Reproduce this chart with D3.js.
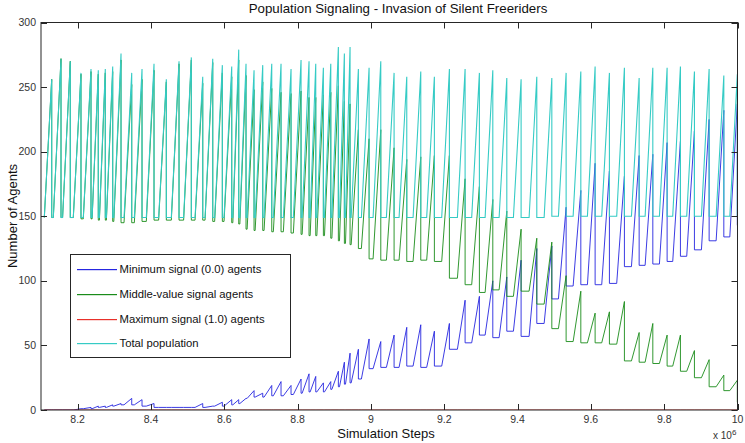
<!DOCTYPE html>
<html><head><meta charset="utf-8">
<script src="https://cdn.jsdelivr.net/npm/d3@7"></script>
<style>
html,body{margin:0;padding:0;background:#fff;}
svg{display:block;font-family:"Liberation Sans",Arial,Helvetica,sans-serif;}
</style></head>
<body><svg id="c" width="745" height="443"></svg>
<script>
// ---- data (x in units of 10^6 simulation steps) ----
const peakStep = [8.1292,8.1546,8.1799,8.2091,8.2364,8.2563,8.2754,8.2956,8.3183,8.3475,8.3756,8.4083,8.4419,8.4765,8.5101,8.5412,8.5685,8.5947,8.6203,8.6394,8.6593,
 8.6812,8.7049,8.7295,8.7548,8.7821,8.8094,8.8312,8.8495,8.8703,8.8905,8.9112,8.9276,8.9431,8.9658,8.9950,9.0269,9.0632,9.0978,9.1360,9.1731,9.2141,9.2569,9.2959,9.3325,
 9.3707,9.4097,9.4525,9.4935,9.5325,9.5726,9.6116,9.6506,9.6915,9.7317,9.7690,9.8080,9.8443,9.8825,9.9226,9.9627,9.9995];
const riseStep = [8.1090,8.1336,8.1589,8.1881,8.2154,8.2394,8.2593,8.2784,8.2986,8.3265,8.3546,8.3873,8.4209,8.4555,8.4891,8.5202,8.5475,8.5737,8.5993,8.6233,8.6424,
 8.6623,8.6842,8.7085,8.7338,8.7611,8.7884,8.8124,8.8342,8.8525,8.8733,8.8935,8.9142,8.9306,8.9461,8.9740,9.0059,9.0422,9.0768,9.1150,9.1521,9.1931,9.2359,9.2749,9.3115,
 9.3497,9.3887,9.4315,9.4725,9.5115,9.5516,9.5906,9.6296,9.6705,9.7107,9.7480,9.7870,9.8233,9.8615,9.9016,9.9417,9.9790];
const totalHigh = [256,272,270,261,264,263,264,266,276,261,264,268,256,270,273,258,272,267,266,279,268,
 263,267,268,268,264,271,270,268,265,268,281,276,281,264,265,270,261,258,262,258,264,264,261,263,
 257,256,258,257,261,262,266,261,265,257,265,265,266,262,264,259,260];
const totalLow = [149,149,149,149,149,149,149,149,149,149,149,149,149,149,149,149,149,149,149,149,149,
 149,149,149,149,149,149,149,149,149,149,149,149,149,149,149,149,149,149,149,149,149,149,149,149,
 149,149,149,149,150,150,150,150,150,150,150,150,150,150,150,150,150];
const blueHigh = [0,0,0,1,2,3,3,4,5,9,8,5,2,2,2,5,3,6,8,8,9,
 15,13,19,22,19,24,28,26,21,22,30,37,44,47,55,53,58,64,66,61,67,85,88,100,
 103,116,125,127,157,170,191,185,181,197,198,207,208,216,225,232,237];
const blueLow = [0,0,0,0,1,1,2,2,3,4,4,3,2,2,2,2,2,3,3,4,5,
 9,10,10,11,11,12,13,14,14,14,16,18,20,21,24,32,33,33,34,33,34,47,52,58,
 56,61,57,67,86,96,97,97,98,111,112,113,115,119,124,131,134];
const greenHigh = [256,272,270,260,262,260,261,262,271,252,256,263,254,268,271,253,269,261,258,271,259,
 248,254,249,246,245,247,242,242,244,246,251,239,237,217,210,217,203,194,196,197,197,179,173,163,
 154,140,133,130,104,92,75,76,84,60,67,58,58,46,39,27,23];
const greenLow = [149,149,149,149,148,148,147,147,146,145,145,146,147,147,147,147,147,146,146,145,144,
 140,139,139,138,138,137,136,135,135,135,133,131,129,128,125,117,116,116,115,116,115,102,97,91,
 93,88,92,82,63,53,52,52,51,38,37,36,34,30,25,18,15];
const redHigh = peakStep.map(() => 0);
const redLow = peakStep.map(() => 0);
const endValue = {total:150, blue:143, green:6, red:0};

const xTicks = [8.2,8.4,8.6,8.8,9,9.2,9.4,9.6,9.8,10];
const yTicks = [0,50,100,150,200,250,300];
const seriesNames = ["Minimum signal (0.0) agents","Middle-value signal agents","Maximum signal (1.0) agents","Total population"];
const seriesColors = ["#2626e0","#1a8c1a","#e8302a","#35cbc5"];
const seriesWidths = [0.9, 0.9, 0.9, 1.1];

// ---- layout ----
const L = 41, R = 737.5, T = 22.5, B = 410;
const svg = d3.select("#c");
const x = d3.scaleLinear([8.1, 10], [L, R]);
const y = d3.scaleLinear([0, 300], [B, T]);

svg.append("defs").append("clipPath").attr("id","clip")
  .append("rect").attr("x",L).attr("y",T).attr("width",R-L).attr("height",B-T);

function build(high, low, endV){
  const pts = [];
  for (let i = 0; i < peakStep.length; i++){
    pts.push([riseStep[i], low[i]]);
    pts.push([peakStep[i], high[i]]);
    pts.push([peakStep[i], i < peakStep.length-1 ? low[i+1] : endV]);
  }
  return pts;
}
const line = d3.line().x(d => x(d[0])).y(d => y(d[1]));
const series = [
  build(blueHigh, blueLow, endValue.blue),
  build(greenHigh, greenLow, endValue.green),
  build(redHigh, redLow, endValue.red),
  build(totalHigh, totalLow, endValue.total)
];
const g = svg.append("g").attr("clip-path","url(#clip)");
series.forEach((s,i) => {
  g.append("path").attr("d", line(s)).attr("fill","none")
   .attr("stroke", seriesColors[i]).attr("stroke-width", seriesWidths[i]);
});

// ---- axes ----
const axisColor = "#262626";
const ax = svg.append("g");
ax.append("rect").attr("x",L).attr("y",T).attr("width",R-L).attr("height",B-T)
  .attr("fill","none").attr("stroke",axisColor).attr("stroke-width",1);
const tl = 6;
xTicks.forEach(v => {
  const px = Math.round(x(v))+0.5;
  ax.append("line").attr("x1",px).attr("x2",px).attr("y1",B).attr("y2",B-tl).attr("stroke",axisColor);
  ax.append("line").attr("x1",px).attr("x2",px).attr("y1",T).attr("y2",T+tl).attr("stroke",axisColor);
  ax.append("text").attr("x",x(v)).attr("y",B+13).attr("text-anchor","middle")
    .attr("font-size",10.5).attr("fill","#333").text(d3.format("~g")(v));
});
yTicks.forEach(v => {
  const py = Math.round(y(v))+0.5;
  ax.append("line").attr("x1",L).attr("x2",L+tl).attr("y1",py).attr("y2",py).attr("stroke",axisColor);
  ax.append("line").attr("x1",R).attr("x2",R-tl).attr("y1",py).attr("y2",py).attr("stroke",axisColor);
  ax.append("text").attr("x",L-5).attr("y",y(v)+3.5).attr("text-anchor","end")
    .attr("font-size",10.5).attr("fill","#333").text(v);
});
// exponent
const ex = ax.append("text").attr("x",713).attr("y",439).attr("font-size",10).attr("fill","#333");
ex.append("tspan").text("x 10");
ex.append("tspan").attr("dy",-4).attr("font-size",8).text("6");

// titles
svg.append("text").attr("x",398).attr("y",13).attr("text-anchor","middle")
  .attr("font-size",13.3).attr("fill","#111").text("Population Signaling - Invasion of Silent Freeriders");
svg.append("text").attr("x",386).attr("y",438).attr("text-anchor","middle")
  .attr("font-size",13).attr("fill","#111").text("Simulation Steps");
svg.append("text").attr("transform","translate(17,216) rotate(-90)").attr("text-anchor","middle")
  .attr("font-size",13).attr("fill","#111").text("Number of Agents");

// legend
const lg = svg.append("g");
lg.append("rect").attr("x",70.5).attr("y",254.5).attr("width",220).attr("height",103)
  .attr("fill","#fff").attr("stroke",axisColor);
const rowY = [269, 294, 319, 343];
seriesNames.forEach((n,i) => {
  lg.append("rect").attr("x",77).attr("width",40).attr("y",rowY[i]).attr("height",1.2)
    .attr("fill",seriesColors[i]);
  lg.append("text").attr("x",119.5).attr("y",rowY[i]+4).attr("font-size",11.3).attr("fill","#111").text(n);
});
</script></body></html>
